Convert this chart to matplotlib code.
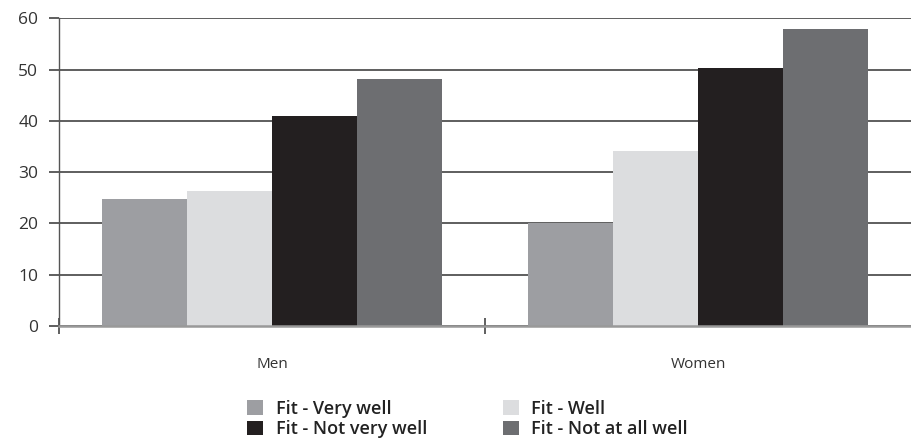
import matplotlib
matplotlib.use("Agg")
import matplotlib.pyplot as plt
import numpy as np
from matplotlib.patches import Patch

categories = ["Men", "Women"]
series_names = ["Fit - Very well", "Fit - Well", "Fit - Not very well", "Fit - Not at all well"]
very_well = [24.8, 20.1]
well = [26.4, 34.2]
not_very_well = [41.0, 50.4]
not_at_all_well = [48.1, 57.9]
yticks = [0, 10, 20, 30, 40, 50, 60]

series_values = [very_well, well, not_very_well, not_at_all_well]
colors = ["#9d9ea2", "#dcdddf", "#231f20", "#6d6e71"]

plt.rcParams['font.family'] = ['Open Sans', 'DejaVu Sans']

fig = plt.figure(figsize=(9.11, 4.45), dpi=100)
ax = fig.add_axes([59/911, 1-326/445, 1-59/911, (326-18.3)/445])

x = np.arange(len(categories))
w = 0.2
for i, (vals, c) in enumerate(zip(series_values, colors)):
    ax.bar(x + (i - 1.5) * w, vals, width=w, color=c, zorder=3, linewidth=0)

ax.set_xlim(-0.5, len(categories) - 0.5)
ax.set_ylim(0, 60)
ax.set_yticks(yticks)
ax.set_yticklabels([str(v) for v in yticks], fontsize=12.5, color="#333333")
ax.yaxis.grid(True, color="#333333", linewidth=1.1, zorder=0)
ax.tick_params(axis='y', length=7, width=1.1, color="#333333", pad=8)

ax.set_xticks(x)
ax.set_xticklabels(categories, fontsize=11, color="#333333")
ax.tick_params(axis='x', which='major', length=0, pad=22)
ax.set_xticks([-0.5, 0.5], minor=True)
ax.tick_params(axis='x', which='minor', direction='inout', length=12, width=1.2, color="#444444")

for s in ["top", "right"]:
    ax.spines[s].set_visible(False)
ax.spines["left"].set_color("#555555")
ax.spines["left"].set_linewidth(1.0)
ax.spines["bottom"].set_color("#999999")
ax.spines["bottom"].set_linewidth(1.8)
ax.spines["bottom"].set_zorder(4)

handles = [Patch(facecolor=c, edgecolor='none') for c in colors]
order = [0, 2, 1, 3]
leg = fig.legend([handles[i] for i in order], [series_names[i] for i in order],
                 ncol=2, frameon=False, loc='upper left',
                 bbox_to_anchor=(238/911, 1-391/445), borderpad=0,
                 prop={'size': 13, 'weight': 'semibold'},
                 handlelength=0.88, handleheight=0.88, handletextpad=0.7,
                 columnspacing=4.2, labelspacing=0.12)
for t in leg.get_texts():
    t.set_color("#222222")

fig.savefig("out.png", dpi=100)
